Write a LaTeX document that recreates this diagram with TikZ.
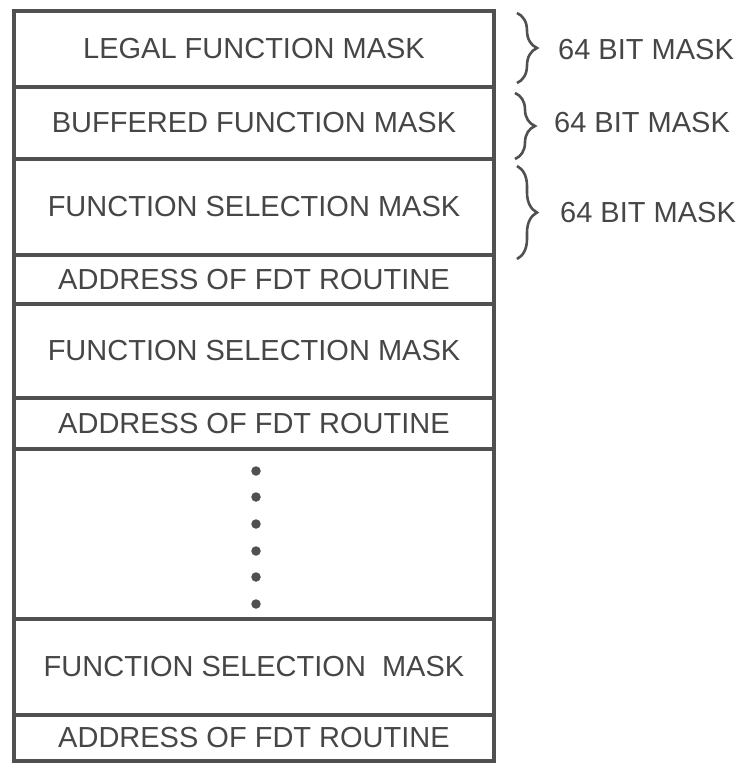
\documentclass[tikz,border=0pt]{standalone}
\usepackage{fontspec}
\setmainfont{Liberation Sans}
\usetikzlibrary{decorations.pathreplacing}
\definecolor{ink}{RGB}{80,80,80}
\definecolor{txt}{RGB}{70,70,70}
\tikzset{
  rowbox/.style={draw=ink, line width=3.5pt, minimum width=480pt, inner sep=0pt, outer sep=0pt,
    anchor=north west, font=\fontsize{29}{32}\selectfont, text=txt},
  bracelbl/.style={anchor=west, font=\fontsize{29}{32}\selectfont, text=txt, inner sep=0pt},
  curly/.style={draw=ink, line width=2.6pt, decorate, decoration={brace, amplitude=20pt}},
  dot/.style={circle, fill=ink, inner sep=0pt, minimum size=9.5pt}
}
\begin{document}
\begin{tikzpicture}[x=1pt, y=-1pt]
\useasboundingbox (0,0) rectangle (740,764);
\node[rowbox, minimum height=76pt] (r1) at (14,11) {LEGAL FUNCTION MASK};
\node[rowbox, minimum height=72pt] (r2) at (14,87) {BUFFERED FUNCTION MASK};
\node[rowbox, minimum height=96pt] (r3) at (14,159) {FUNCTION SELECTION MASK};
\node[rowbox, minimum height=49pt] (r4) at (14,255) {ADDRESS OF FDT ROUTINE};
\node[rowbox, minimum height=94pt] (r5) at (14,304) {FUNCTION SELECTION MASK};
\node[rowbox, minimum height=51pt] (r6) at (14,398) {ADDRESS OF FDT ROUTINE};
\node[rowbox, minimum height=170pt] (r7) at (14,449) {};
\node[rowbox, minimum height=96pt] (r8) at (14,619) {FUNCTION SELECTION\ \ MASK};
\node[rowbox, minimum height=46pt] (r9) at (14,715) {ADDRESS OF FDT ROUTINE};
\foreach \i/\y in {1/471,2/497,3/524,4/551,5/577,6/604}
  \node[dot] (d\i) at (256,\y) {};
\coordinate (b1t) at (517,13);  \coordinate (b1b) at (517,83);
\coordinate (b2t) at (515,93);  \coordinate (b2b) at (515,159);
\coordinate (b3t) at (517,166); \coordinate (b3b) at (517,259);
\draw[curly] (b1t) -- (b1b);
\draw[curly] (b2t) -- (b2b);
\draw[curly] (b3t) -- (b3b);
\node[bracelbl] (m1) at (558,50) {64 BIT MASK};
\node[bracelbl] (m2) at (554,123) {64 BIT MASK};
\node[bracelbl] (m3) at (560,213) {64 BIT MASK};
\end{tikzpicture}
\end{document}
